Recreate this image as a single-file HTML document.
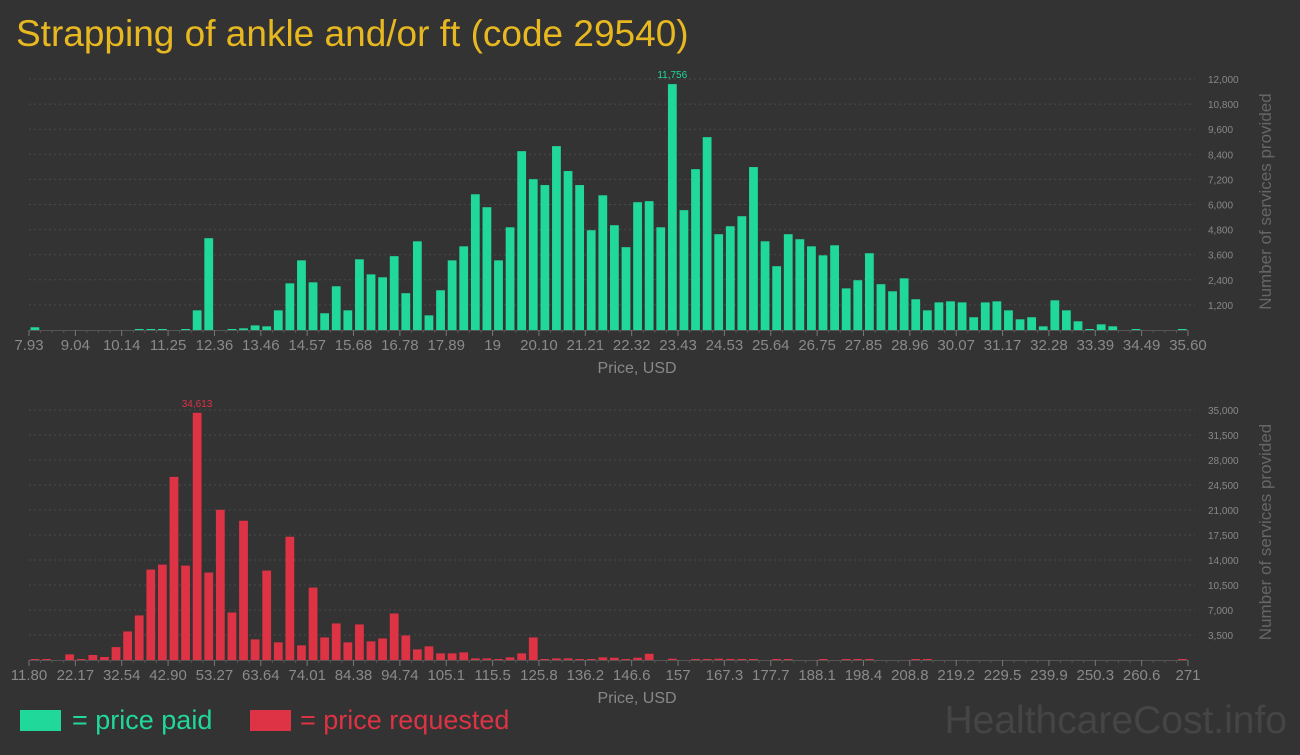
<!DOCTYPE html>
<html><head><meta charset="utf-8">
<style>
html,body{margin:0;padding:0;background:#333333;}
body{width:1300px;height:750px;overflow:hidden;position:relative;font-family:"Liberation Sans Narrow","Liberation Sans",sans-serif;}
svg text{font-family:"Liberation Sans Narrow","Liberation Sans",sans-serif;}
</style></head>
<body>
<svg id="svg" width="1300" height="750" xmlns="http://www.w3.org/2000/svg">
<rect width="1300" height="750" fill="#333333"/>
<text x="16" y="46" font-size="37" fill="#e8b820">Strapping of ankle and/or ft (code 29540)</text>
<g id="top"></g><g id="bot"></g>
<rect x="20" y="710" width="41" height="21" fill="#20d89a"/>
<text x="72" y="729" font-size="27" fill="#20d89a">= price paid</text>
<rect x="250" y="710" width="41" height="21" fill="#dd3344"/>
<text x="300" y="729" font-size="27" fill="#dd3344">= price requested</text>
<text x="1287" y="733" font-size="39" fill="#454545" text-anchor="end">HealthcareCost.info</text>
</svg>
<script>
const paidValues=[130,0,0,0,0,0,0,0,0,30,30,30,0,20,940,4390,0,20,80,220,175,940,2230,3330,2280,800,2090,940,3380,2660,2520,3530,1760,4240,700,1900,3330,4000,6490,5870,3330,4910,8550,7210,6930,8790,7600,6930,4770,6440,5010,3960,6110,6160,4910,11756,5730,7690,9220,4580,4960,5440,7790,4240,3050,4580,4340,4000,3570,4050,1990,2380,3670,2190,1850,2470,1470,940,1320,1370,1320,610,1320,1370,940,510,610,175,1420,940,415,30,270,175,0,30,0,0,0,30];
const requestedValues=[140,140,0,790,140,700,420,1810,4000,6240,12660,13360,25640,13220,34613,12240,21030,6650,19500,2890,12520,2470,17260,2050,10140,3160,5120,2470,4980,2610,3020,6510,3440,1490,1910,930,930,1070,230,230,90,370,930,3160,90,230,230,90,90,370,320,100,320,870,0,180,0,60,60,180,60,60,60,0,60,60,0,0,60,0,60,60,60,0,0,0,60,60,0,0,0,0,0,0,0,0,0,0,0,0,0,0,0,0,0,0,0,0,0,60];
const paidTicks=["7.93","9.04","10.14","11.25","12.36","13.46","14.57","15.68","16.78","17.89","19","20.10","21.21","22.32","23.43","24.53","25.64","26.75","27.85","28.96","30.07","31.17","32.28","33.39","34.49","35.60"];
const requestedTicks=["11.80","22.17","32.54","42.90","53.27","63.64","74.01","84.38","94.74","105.1","115.5","125.8","136.2","146.6","157","167.3","177.7","188.1","198.4","208.8","219.2","229.5","239.9","250.3","260.6","271"];
const paidY=[1200,2400,3600,4800,6000,7200,8400,9600,10800,12000];
const requestedY=[3500,7000,10500,14000,17500,21000,24500,28000,31500,35000];
const NS="http://www.w3.org/2000/svg";
function mk(parent,tag,attrs){const e=document.createElementNS(NS,tag);for(const k in attrs)e.setAttribute(k,attrs[k]);parent.appendChild(e);return e;}
function drawChart(g,name,vals,ticks,yt,base,top,ymax,color,fmt){
  const x0=29,x1=1188,n=vals.length,step=(x1-x0)/n;
  const xs=i=>x0+i*step; const ys=v=>base-(v/ymax)*(base-top);
  yt.forEach(v=>{
    const l=mk(g,'line',{x1:x0,x2:1195,y1:ys(v),y2:ys(v),stroke:'#4a4a4a','stroke-dasharray':'2,3'});
    
    
    const t=mk(g,'text',{x:1208,y:ys(v)+4,'font-size':10,fill:'#888'});
    t.textContent=v.toLocaleString('en-US');
    
    
  });
  let maxI=0;vals.forEach((v,i)=>{if(v>vals[maxI])maxI=i;});
  vals.forEach((v,i)=>{
    if(v<=0)return;
    const h=Math.max(1,base-ys(v));
    const r=mk(g,'rect',{x:xs(i)+1.5,y:base-h,width:step-2.8,height:h,fill:color});
    
    
  });
  const pl=mk(g,'text',{x:xs(maxI)+step/2,y:ys(vals[maxI])-6,'font-size':10,fill:color,'text-anchor':'middle'});
  pl.textContent=vals[maxI].toLocaleString('en-US');
  
  
  const ax=mk(g,'line',{x1:x0,x2:x1,y1:base+0.5,y2:base+0.5,stroke:'#555'});
  
  
  for(let i=0;i<=n;i++){
    const major=i%4===0;
    mk(g,'line',{x1:xs(i),x2:xs(i),y1:base,y2:base+(major?6:3),stroke:major?'#777':'#555'});
  }
  ticks.forEach((t,k)=>{
    const tx=mk(g,'text',{x:xs(k*4),y:base+20,'font-size':15,fill:'#8a8a8a','text-anchor':'middle'});
    tx.textContent=t;
    
    
  });
  const xt=mk(g,'text',{x:637,y:base+43,'font-size':16,fill:'#888','text-anchor':'middle'});
  xt.textContent='Price, USD';
  
  
  const cy=(base+top)/2-3;
  const yl=mk(g,'text',{x:1271,y:cy,'font-size':17,fill:'#666','text-anchor':'middle',transform:'rotate(-90 1271 '+cy+')'});
  yl.textContent='Number of services provided';
  
  
}
drawChart(document.getElementById('top'),'paid-chart',paidValues,paidTicks,paidY,330,79,12000,'#20d89a');
drawChart(document.getElementById('bot'),'requested-chart',requestedValues,requestedTicks,requestedY,660,410,35000,'#dd3344');
</script>
</body></html>
